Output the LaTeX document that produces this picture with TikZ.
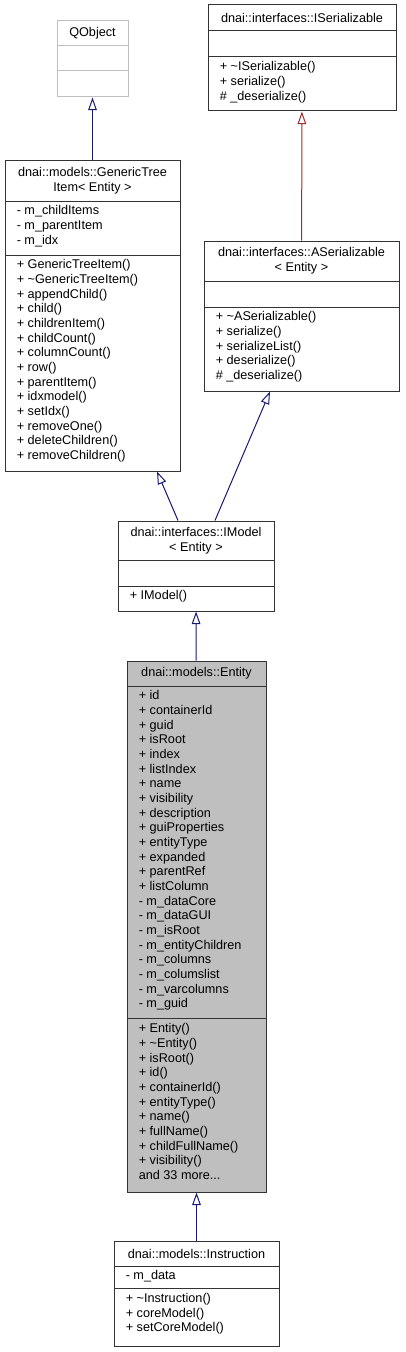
\documentclass[tikz,border=0pt]{standalone}
\usepackage{fontspec}
\setmainfont{Liberation Sans}
\usepackage{tikz}
\usetikzlibrary{arrows.meta,fit}
\usepackage{xcolor}
\definecolor{edgeblue}{HTML}{191970}
\definecolor{edgered}{HTML}{9B2D2D}
\definecolor{boxgray}{HTML}{BFBFBF}

\begin{document}
\begin{tikzpicture}[x=0.75pt, y=-0.75pt,
    every node/.style={font=\fontsize{9.5}{11}\selectfont},
    classbox/.style={draw=black!80, line width=0.75pt, inner sep=0pt},
    ctitle/.style={align=center, inner sep=0pt},
    member/.style={anchor=north west, align=left, inner sep=0pt},
    sep/.style={draw=black!80, line width=0.75pt},
    pubinh/.style={edgeblue, line width=0.75pt,
                   -{Triangle[open, length=9.5pt, width=6.5pt]}},
    privinh/.style={edgered, line width=0.75pt,
                    -{Triangle[open, length=9.5pt, width=6.5pt]}}]
  \useasboundingbox (0,0) rectangle (405,1352);

  % QObject
  \node[classbox, draw=boxgray, fit={(57,21) (128,97)}] (qobj) {};
  \draw[sep, boxgray] (57,46) -- (128,46) (57,71) -- (128,71);
  \node[ctitle] (qobj-t) at (92.5,33.5) {QObject};

  % dnai::interfaces::ISerializable
  \node[classbox, fit={(208,5) (396,111)}] (iser) {};
  \draw[sep] (208,31) -- (396,31) (208,57) -- (396,57);
  \node[ctitle] (iser-t) at (302,18) {dnai::interfaces::ISerializable};
  \node[member] (iser-m) at (219.5,61.5)
       {+ \textasciitilde ISerializable()\\+ serialize()\\\# \_deserialize()};

  % dnai::models::GenericTreeItem
  \node[classbox, fit={(5,161) (180,471)}] (gti) {};
  \draw[sep] (5,201) -- (180,201) (5,255) -- (180,255);
  \node[ctitle] (gti-t) at (92.5,181)
       {dnai::models::GenericTree\\Item< Entity >};
  \node[member] (gti-a) at (16.5,205.5)
       {- m\_childItems\\- m\_parentItem\\- m\_idx};
  \node[member] (gti-m) at (16.5,259.5)
       {+ GenericTreeItem()\\+ \textasciitilde GenericTreeItem()\\+ appendChild()\\
        + child()\\+ childrenItem()\\+ childCount()\\+ columnCount()\\+ row()\\
        + parentItem()\\+ idxmodel()\\+ setIdx()\\+ removeOne()\\
        + deleteChildren()\\+ removeChildren()};

  % dnai::interfaces::ASerializable
  \node[classbox, fit={(204,241) (399,391)}] (aser) {};
  \draw[sep] (204,281) -- (399,281) (204,307) -- (399,307);
  \node[ctitle] (aser-t) at (301.5,261)
       {dnai::interfaces::ASerializable\\< Entity >};
  \node[member] (aser-m) at (215.5,311.5)
       {+ \textasciitilde ASerializable()\\+ serialize()\\+ serializeList()\\
        + deserialize()\\\# \_deserialize()};

  % dnai::interfaces::IModel
  \node[classbox, fit={(118,521) (274,611)}] (imodel) {};
  \draw[sep] (118,560) -- (274,560) (118,586) -- (274,586);
  \node[ctitle] (imodel-t) at (196,540.5)
       {dnai::interfaces::IModel\\< Entity >};
  \node[member] (imodel-m) at (129.5,590.5) {+ IModel()};

  % dnai::models::Entity
  \node[classbox, fill=boxgray, fit={(127,661) (266,1192)}] (entity) {};
  \draw[sep] (127,686) -- (266,686) (127,1018) -- (266,1018);
  \node[ctitle] (entity-t) at (196.5,673.5) {dnai::models::Entity};
  \node[member] (entity-a) at (138.5,690.5)
       {+ id\\+ containerId\\+ guid\\+ isRoot\\+ index\\+ listIndex\\+ name\\
        + visibility\\+ description\\+ guiProperties\\+ entityType\\+ expanded\\
        + parentRef\\+ listColumn\\- m\_dataCore\\- m\_dataGUI\\- m\_isRoot\\
        - m\_entityChildren\\- m\_columns\\- m\_columslist\\- m\_varcolumns\\
        - m\_guid};
  \node[member] (entity-m) at (138.5,1023.5)
       {+ Entity()\\+ \textasciitilde Entity()\\+ isRoot()\\+ id()\\
        + containerId()\\+ entityType()\\+ name()\\+ fullName()\\
        + childFullName()\\+ visibility()\\and 33 more...};

  % dnai::models::Instruction
  \node[classbox, fit={(114,1241) (279,1346)}] (instr) {};
  \draw[sep] (114,1266) -- (279,1266) (114,1288) -- (279,1288);
  \node[ctitle] (instr-t) at (196.5,1253.5) {dnai::models::Instruction};
  \node[member] (instr-a) at (125.5,1270.5) {- m\_data};
  \node[member] (instr-m) at (125.5,1293)
       {+ \textasciitilde Instruction()\\+ coreModel()\\+ setCoreModel()};

  % inheritance
  \draw[pubinh]  (gti) -- (qobj);
  \draw[privinh] (aser) -- (iser);
  \draw[pubinh]  (178,0 |- imodel.north) -- (157,0 |- gti.south);
  \draw[pubinh]  (215,0 |- imodel.north) -- (270,0 |- aser.south);
  \draw[pubinh]  (entity) -- (imodel);
  \draw[pubinh]  (instr) -- (entity);
\end{tikzpicture}
\end{document}
